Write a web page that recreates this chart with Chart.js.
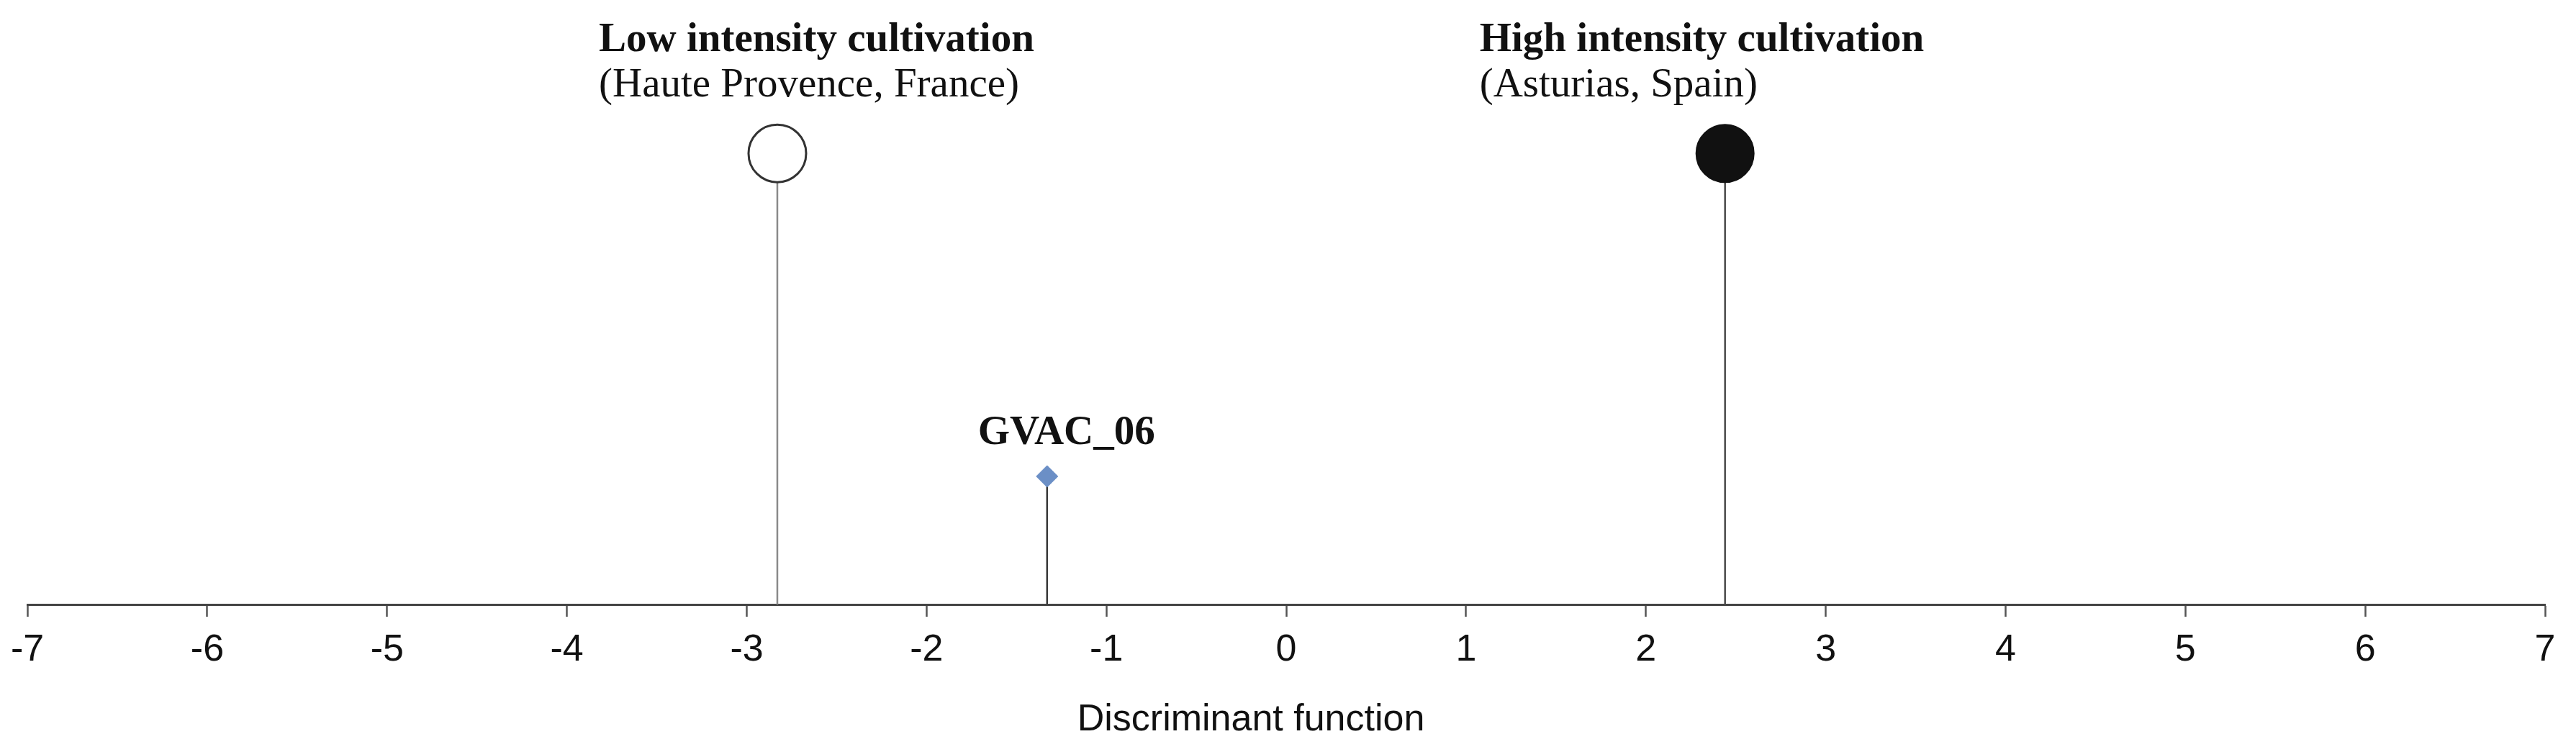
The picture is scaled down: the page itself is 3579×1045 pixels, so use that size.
<!DOCTYPE html>
<html>
<head>
<meta charset="utf-8">
<script src="https://cdn.jsdelivr.net/npm/chart.js@4.4.1/dist/chart.umd.min.js"></script>
<style>
  html, body { margin: 0; padding: 0; background: #fff; }
  canvas { display: block; }
</style>
</head>
<body>
<canvas id="grafico" width="3579" height="1045"></canvas>
<script>
// datos
const grupos = ['Low intensity cultivation', 'High intensity cultivation', 'GVAC_06'];
const regiones = ['(Haute Provence, France)', '(Asturias, Spain)', ''];
const puntajes = [-2.83, 2.44, -1.33];
const alturas = [1, 1, 0.284];
const ticksX = [-7, -6, -5, -4, -3, -2, -1, 0, 1, 2, 3, 4, 5, 6, 7];
const tituloX = 'Discriminant function';

// estilos por grupo
const estilos = [
    { pointStyle: 'circle', radius: 40, fill: '#ffffff', border: '#333333', borderWidth: 3, stem: '#8a8a8a', dx: -248 },
    { pointStyle: 'circle', radius: 40, fill: '#111111', border: '#111111', borderWidth: 2, stem: '#4a4a4a', dx: -341 },
    { pointStyle: 'rectRot', radius: 15, fill: '#6b8fc6', border: '#6b8fc6', borderWidth: 1, stem: '#3a3a3a', dx: -96 }
];

const datasets = grupos.map((nombre, i) => ({
    label: nombre,
    data: [{ x: puntajes[i], y: 0 }, { x: puntajes[i], y: alturas[i] }],
    showLine: true,
    borderColor: estilos[i].stem,
    borderWidth: 2.5,
    pointStyle: estilos[i].pointStyle,
    pointRadius: [0, estilos[i].radius],
    pointBackgroundColor: estilos[i].fill,
    pointBorderColor: estilos[i].border,
    pointBorderWidth: estilos[i].borderWidth,
    clip: false
}));

// etiquetas encima de cada punto y titulo del eje
const etiquetas = {
    id: 'etiquetas',
    afterDatasetsDraw(chart) {
        const ctx = chart.ctx;
        ctx.save();
        ctx.fillStyle = '#111';
        ctx.textAlign = 'left';
        ctx.textBaseline = 'alphabetic';
        grupos.forEach((nombre, i) => {
            const p = chart.getDatasetMeta(i).data[1];
            const x = p.x + estilos[i].dx;
            ctx.font = 'bold 57px "Liberation Serif"';
            if (regiones[i]) {
                ctx.fillText(nombre, x, p.y - 142);
                ctx.font = '57px "Liberation Serif"';
                ctx.fillText(regiones[i], x, p.y - 79);
            } else {
                ctx.fillText(nombre, x, p.y - 45);
            }
        });
        // titulo del eje x (algo corrido a la izquierda, como en el original)
        const sx = chart.scales.x;
        ctx.font = '52px "Liberation Sans", Arial';
        ctx.textAlign = 'center';
        ctx.fillText(tituloX, (sx.left + sx.right) / 2 - 49, 1015);
        ctx.restore();
    }
};

new Chart(document.getElementById('grafico').getContext('2d'), {
    type: 'scatter',
    data: { datasets: datasets },
    plugins: [etiquetas],
    options: {
        responsive: false,
        animation: false,
        devicePixelRatio: 1,
        layout: { autoPadding: false, padding: { top: 0, left: 36, right: 43, bottom: 95.6 } },
        plugins: {
            legend: { display: false },
            tooltip: { enabled: false }
        },
        scales: {
            x: {
                type: 'linear',
                min: -7,
                max: 7,
                afterBuildTicks: (scale) => { scale.ticks = ticksX.map(v => ({ value: v })); },
                grid: {
                    drawOnChartArea: false,
                    drawTicks: true,
                    tickLength: 17,
                    tickColor: '#555',
                    tickWidth: 2.5
                },
                border: { display: true, color: '#444', width: 3 },
                ticks: {
                    color: '#111',
                    padding: 15,
                    maxRotation: 0,
                    font: { family: '"Liberation Sans", Arial', size: 52 }
                },
                title: { display: false }
            },
            y: {
                display: false,
                min: 0,
                max: 1.34
            }
        }
    }
});
</script>
</body>
</html>
